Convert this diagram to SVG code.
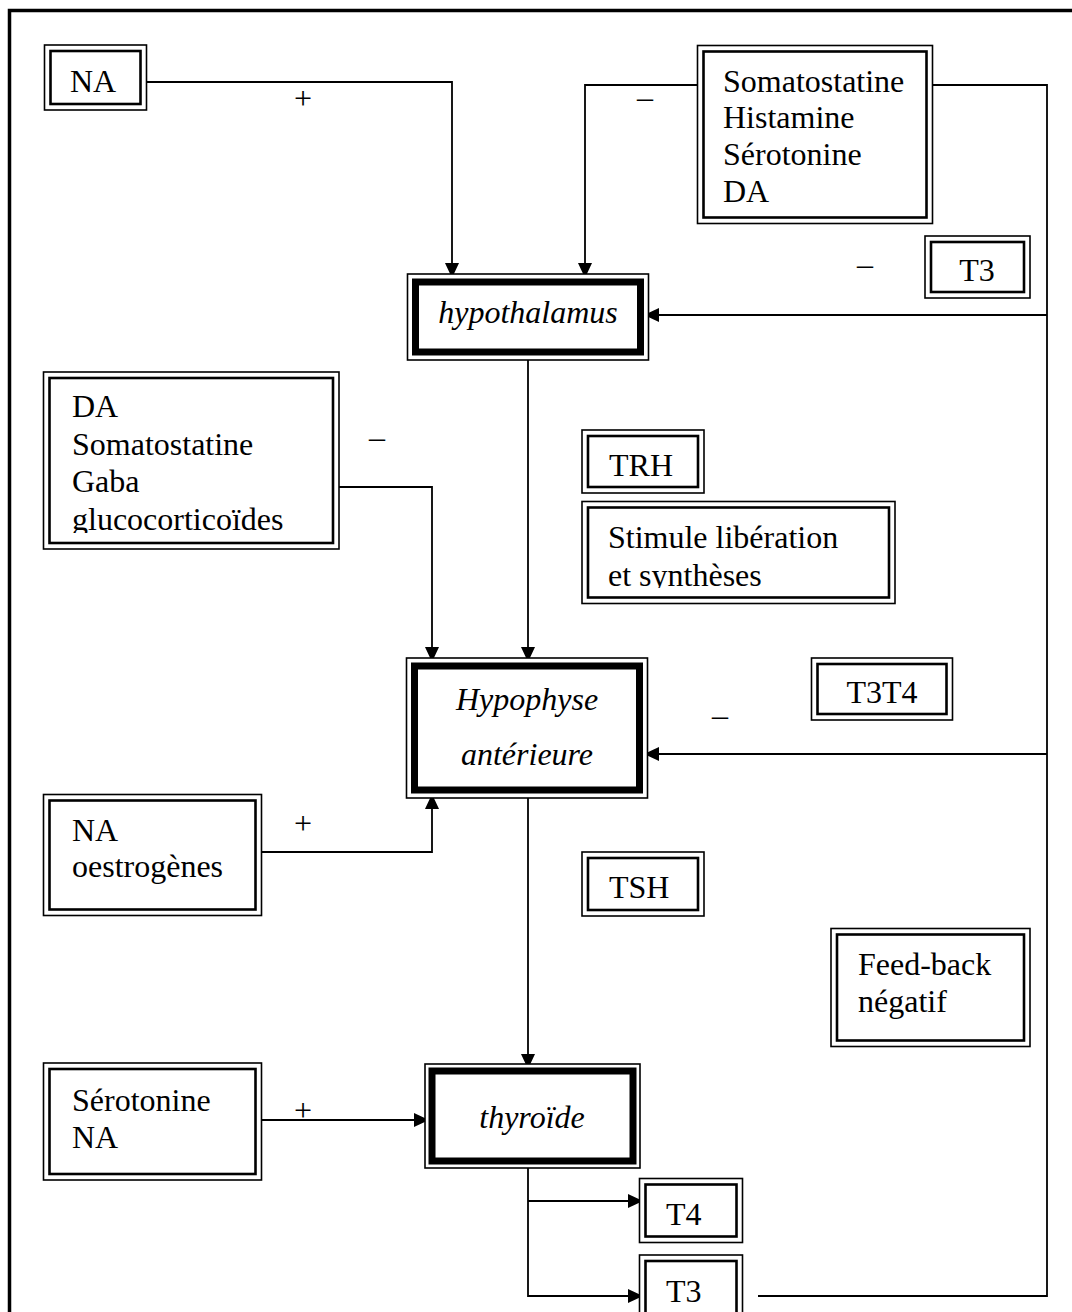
<svg xmlns="http://www.w3.org/2000/svg" width="1072" height="1312" viewBox="0 0 1072 1312">
<style>
text{font-family:"Liberation Serif","Times New Roman",serif;font-size:32px;fill:#000}
.it{font-style:italic}
.o{fill:#fff;stroke:#000;stroke-width:1.6}
.i{fill:none;stroke:#000;stroke-width:2.6}
.k{fill:none;stroke:#000;stroke-width:7}
.c{fill:none;stroke:#000;stroke-width:1.8}
.m{text-anchor:middle}
</style>
<defs>
<marker id="ah" markerUnits="userSpaceOnUse" markerWidth="15" markerHeight="14" viewBox="0 0 15 14" refX="15" refY="7" orient="auto">
<path d="M0,0 L15,7 L0,14 z" fill="#000"/>
</marker>
<clipPath id="clipDA"><rect x="50" y="378" width="284" height="155"/></clipPath>
<clipPath id="clipST"><rect x="588" y="507" width="301" height="81"/></clipPath>
</defs>
<rect x="9.5" y="10.5" width="1100" height="1400" fill="none" stroke="#000" stroke-width="3.5"/>

<g id="connectors">
<path class="c" d="M147,82 H452 V278" marker-end="url(#ah)"/>
<path class="c" d="M697,85 H585 V278" marker-end="url(#ah)"/>
<path class="c" d="M933,85 H1047 V1296 H758"/>
<path class="c" d="M1047,315 H644" marker-end="url(#ah)"/>
<path class="c" d="M528,360 V662" marker-end="url(#ah)"/>
<path class="c" d="M339,487 H432 V662" marker-end="url(#ah)"/>
<path class="c" d="M1047,754 H644" marker-end="url(#ah)"/>
<path class="c" d="M262,852 H432 V794" marker-end="url(#ah)"/>
<path class="c" d="M528,798 V1069" marker-end="url(#ah)"/>
<path class="c" d="M262,1120 H429" marker-end="url(#ah)"/>
<path class="c" d="M528,1168 V1296 H643" marker-end="url(#ah)"/>
<path class="c" d="M528,1201 H643" marker-end="url(#ah)"/>
</g>

<g id="labels">
<text class="m" x="303" y="109">+</text>
<text class="m" x="645" y="108">–</text>
<text class="m" x="865" y="275">–</text>
<text class="m" x="377" y="448">–</text>
<text class="m" x="720" y="715">_</text>
<text class="m" x="303" y="834">+</text>
<text class="m" x="303" y="1121">+</text>
</g>

<g id="na-top">
<rect class="o" x="44.5" y="45" width="102" height="65"/>
<rect class="i" x="50.5" y="51" width="90" height="53"/>
<text class="m" x="93" y="92">NA</text>
</g>

<g id="somatostatine">
<rect class="o" x="697.5" y="45.5" width="235" height="178"/>
<rect class="i" x="703.5" y="51.5" width="223" height="166"/>
<text x="723" y="92">Somatostatine</text>
<text x="723" y="128">Histamine</text>
<text x="723" y="165">Sérotonine</text>
<text x="723" y="202">DA</text>
</g>

<g id="t3-top">
<rect class="o" x="925" y="236" width="105" height="62"/>
<rect class="i" x="931" y="242" width="93" height="50"/>
<text class="m" x="977" y="281">T3</text>
</g>

<g id="hypothalamus">
<rect class="o" x="407.5" y="274" width="241" height="86"/>
<rect class="k" x="415.5" y="282" width="225" height="70"/>
<text class="it m" x="528" y="323">hypothalamus</text>
</g>

<g id="da-box">
<rect class="o" x="43.5" y="372" width="295.5" height="177"/>
<rect class="i" x="49.5" y="378" width="283.5" height="165"/>
<g clip-path="url(#clipDA)">
<text x="72" y="417">DA</text>
<text x="72" y="455">Somatostatine</text>
<text x="72" y="492">Gaba</text>
<text x="72" y="530">glucocorticoïdes</text>
</g>
</g>

<g id="trh">
<rect class="o" x="582" y="430" width="122" height="63"/>
<rect class="i" x="588" y="436" width="110" height="51"/>
<text x="609" y="476">TRH</text>
</g>

<g id="stimule">
<rect class="o" x="582" y="501.5" width="313" height="102"/>
<rect class="i" x="588" y="507.5" width="301" height="90"/>
<g clip-path="url(#clipST)">
<text x="608" y="548">Stimule libération</text>
<text x="608" y="586">et synthèses</text>
</g>
</g>

<g id="hypophyse">
<rect class="o" x="406.5" y="658" width="241" height="140"/>
<rect class="k" x="414.5" y="666" width="225" height="124"/>
<text class="it m" x="527" y="710">Hypophyse</text>
<text class="it m" x="527" y="765">antérieure</text>
</g>

<g id="t3t4">
<rect class="o" x="811.5" y="658" width="141" height="62"/>
<rect class="i" x="817.5" y="664" width="129" height="50"/>
<text class="m" x="882" y="703">T3T4</text>
</g>

<g id="na-oestrogenes">
<rect class="o" x="43.5" y="794.5" width="218" height="121"/>
<rect class="i" x="49.5" y="800.5" width="206" height="109"/>
<text x="72" y="841">NA</text>
<text x="72" y="877">oestrogènes</text>
</g>

<g id="tsh">
<rect class="o" x="582" y="852" width="122" height="64"/>
<rect class="i" x="588" y="858" width="110" height="52"/>
<text x="609" y="898">TSH</text>
</g>

<g id="feedback">
<rect class="o" x="831" y="928.5" width="199" height="118"/>
<rect class="i" x="837" y="934.5" width="187" height="106"/>
<text x="858" y="975">Feed-back</text>
<text x="858" y="1012">négatif</text>
</g>

<g id="serotonine-na">
<rect class="o" x="43.5" y="1063" width="218" height="117"/>
<rect class="i" x="49.5" y="1069" width="206" height="105"/>
<text x="72" y="1111">Sérotonine</text>
<text x="72" y="1148">NA</text>
</g>

<g id="thyroide">
<rect class="o" x="425" y="1064" width="215" height="104"/>
<rect class="k" x="432" y="1071" width="201" height="90"/>
<text class="it m" x="532" y="1128">thyroïde</text>
</g>

<g id="t4">
<rect class="o" x="639.5" y="1178.5" width="103" height="64"/>
<rect class="i" x="645.5" y="1184.5" width="91" height="52"/>
<text x="666" y="1225">T4</text>
</g>

<g id="t3-bottom">
<rect class="o" x="639.5" y="1255" width="103" height="70"/>
<rect class="i" x="645.5" y="1261" width="91" height="58"/>
<text x="666" y="1302">T3</text>
</g>
</svg>
